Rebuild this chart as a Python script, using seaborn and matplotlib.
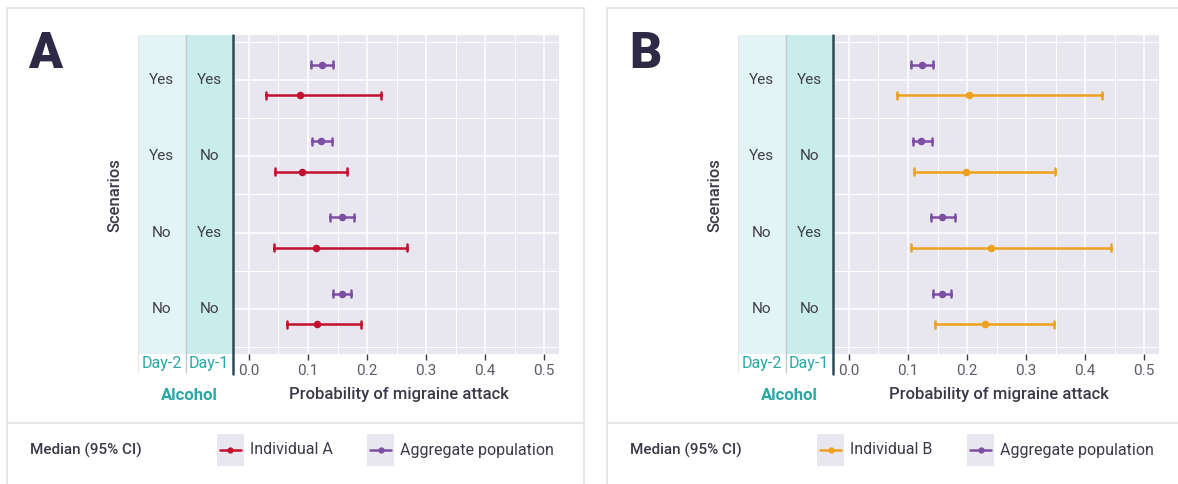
import pandas as pd
import seaborn as sns
import matplotlib.pyplot as plt
from matplotlib.patches import Rectangle
from matplotlib.lines import Line2D
from matplotlib.ticker import MultipleLocator

# scenarios (alcohol on day-2 / day-1)
day2 = ["Yes", "Yes", "No", "No"]
day1 = ["Yes", "No", "Yes", "No"]
scenarios = [a + "/" + b for a, b in zip(day2, day1)]

# panel A: median and 95% CI
pop_a_lo = [0.105, 0.107, 0.138, 0.143]
pop_a_med = [0.123, 0.122, 0.157, 0.157]
pop_a_hi = [0.143, 0.140, 0.178, 0.173]
ind_a_lo = [0.029, 0.044, 0.042, 0.065]
ind_a_med = [0.087, 0.089, 0.113, 0.116]
ind_a_hi = [0.224, 0.166, 0.267, 0.190]

# panel B
pop_b_lo = [0.105, 0.108, 0.139, 0.143]
pop_b_med = [0.123, 0.122, 0.158, 0.157]
pop_b_hi = [0.143, 0.140, 0.179, 0.173]
ind_b_lo = [0.082, 0.110, 0.105, 0.145]
ind_b_med = [0.204, 0.199, 0.240, 0.231]
ind_b_hi = [0.429, 0.349, 0.444, 0.347]

x_ticks = [0.0, 0.1, 0.2, 0.3, 0.4, 0.5]

POP_COL = "#7d4fa3"
RED = "#c3102f"
ORANGE = "#eea11d"
TEAL = "#2aa6a4"
DARK = "#3b3947"
BG = "#e8e6ee"

sns.set_theme(style="darkgrid", rc={"axes.facecolor": BG, "grid.color": "white"})
plt.rcParams['font.family'] = ['Roboto', 'DejaVu Sans']

W, H = 1178, 484
fig = plt.figure(figsize=(W / 100, H / 100), dpi=100)
fig.patch.set_facecolor("white")


def fx(px):
    return px / W


def fy(py):
    return 1 - py / H


def long_df(ind_name, ind_lo, ind_med, ind_hi, pop_lo, pop_med, pop_hi):
    rows = []
    for i, s in enumerate(scenarios):
        for name, lo, med, hi in [("Aggregate population", pop_lo, pop_med, pop_hi),
                                  (ind_name, ind_lo, ind_med, ind_hi)]:
            for v in (lo[i], med[i], hi[i]):
                rows.append({"scenario": s, "series": name, "p": v})
    return pd.DataFrame(rows)


def panel(off, letter, ind_name, ind_col, ind_lo, ind_med, ind_hi, pop_lo, pop_med, pop_hi, card_right):
    # card border
    fig.patches.append(Rectangle((fx(off + 7), fy(490)), fx(card_right - off - 7), fy(8) - fy(490),
                                 transform=fig.transFigure, facecolor="none", edgecolor="#e2e2e2", lw=1.2))
    fig.lines.append(Line2D([fx(off + 7), fx(card_right)], [fy(423), fy(423)],
                            transform=fig.transFigure, color="#e2e2e2", lw=1.2))

    ax = fig.add_axes([fx(off + 233), fy(354), fx(326), fy(35) - fy(354)])
    df = long_df(ind_name, ind_lo, ind_med, ind_hi, pop_lo, pop_med, pop_hi)
    sns.pointplot(data=df, x="p", y="scenario", hue="series", order=scenarios,
                  hue_order=["Aggregate population", ind_name],
                  palette={"Aggregate population": POP_COL, ind_name: ind_col},
                  estimator="median", errorbar=lambda v: (v.min(), v.max()),
                  dodge=0.4, linestyle="none", markers="o", markersize=3.4,
                  capsize=0.09, err_kws={"linewidth": 1.8}, orient="h",
                  legend=False, ax=ax)
    ax.set_xlim(-0.027, 0.525)
    ax.set_ylim(3.59, -0.59)
    ax.set_xticks(x_ticks)
    ax.set_xticklabels([f"{t:.1f}" for t in x_ticks])
    ax.xaxis.set_minor_locator(MultipleLocator(0.05))
    ax.set_yticks(range(4))
    ax.set_yticklabels([])
    ax.set_yticks([-0.5, 0.5, 1.5, 2.5, 3.5], minor=True)
    ax.grid(which="major", color="white", lw=1.1)
    ax.grid(which="minor", color="white", lw=0.7)
    ax.tick_params(axis="x", which="major", bottom=True, length=4, color=DARK, width=1,
                   labelsize=11, labelcolor="#5c5c66", pad=3)
    ax.tick_params(axis="y", which="major", left=True, length=5, color=DARK, width=1.5)
    ax.tick_params(which="minor", length=0)
    ax.set_xlabel("")
    ax.set_ylabel("")
    for sp in ax.spines.values():
        sp.set_visible(False)

    # alcohol band columns
    bx = fig.add_axes([fx(off + 138), fy(373), fx(95), fy(35) - fy(373)])
    bx.set_facecolor("white")
    bx.set_xlim(0, 2)
    bx.set_ylim(3.84, -0.59)
    bx.axvspan(0, 1, ymin=(3.84 - 3.59) / 4.43, ymax=1, color="#e3f4f4", lw=0)
    bx.axvspan(1, 2, ymin=(3.84 - 3.59) / 4.43, ymax=1, color="#c9ecec", lw=0)
    bx.axvline(1, color="#c4c8cc", lw=1)
    bx.axvline(0, color="#e4e7ea", lw=1)
    bx.grid(False)
    bx.set_xticks([])
    bx.set_yticks([])
    for sp in bx.spines.values():
        sp.set_visible(False)
    for i in range(4):
        bx.text(0.5, i, day2[i], ha="center", va="center", fontsize=11, color="#3f3f48")
        bx.text(1.5, i, day1[i], ha="center", va="center", fontsize=11, color="#3f3f48")
    bx.text(0.5, 3.72, "Day-2", ha="center", va="center", fontsize=11.5, color=TEAL)
    bx.text(1.5, 3.72, "Day-1", ha="center", va="center", fontsize=11.5, color=TEAL)

    # dark axis line on the left of the plot
    fig.lines.append(Line2D([fx(off + 233), fx(off + 233)], [fy(35), fy(374)],
                            transform=fig.transFigure, color="#2e4a53", lw=1.8))

    fig.text(fx(off + 189), fy(395), "Alcohol", ha="center", va="center",
             fontsize=12, fontweight="bold", color=TEAL)
    fig.text(fx(off + 399), fy(395), "Probability of migraine attack", ha="center", va="center",
             fontsize=12, fontweight="medium", color=DARK)
    fig.text(fx(off + 115), fy(195), "Scenarios", ha="center", va="center", rotation=90,
             fontsize=12, fontweight="medium", color=DARK)
    fig.text(fx(off + 45), fy(55), letter, ha="center", va="center",
             fontsize=36, fontweight="heavy", color="#2e2a45")

    # legend row
    fig.text(fx(off + 30), fy(450), "Median (95% CI)", ha="left", va="center",
             fontsize=11, fontweight="medium", color=DARK)
    for hx, name, col in [(off + 217, ind_name, ind_col), (off + 367, "Aggregate population", POP_COL)]:
        fig.patches.append(Rectangle((fx(hx), fy(466)), fx(27), fy(434) - fy(466),
                                     transform=fig.transFigure, facecolor=BG, edgecolor="none"))
        fig.lines.append(Line2D([fx(hx + 3), fx(hx + 24)], [fy(450), fy(450)], transform=fig.transFigure,
                                color=col, lw=1.8))
        fig.lines.append(Line2D([fx(hx + 13.5)], [fy(450)], transform=fig.transFigure,
                                color=col, marker="o", markersize=3.5))
        fig.text(fx(hx + 33), fy(450), name, ha="left", va="center", fontsize=11.5, color=DARK)


panel(0, "A", "Individual A", RED, ind_a_lo, ind_a_med, ind_a_hi,
      pop_a_lo, pop_a_med, pop_a_hi, 584)
panel(600, "B", "Individual B", ORANGE, ind_b_lo, ind_b_med, ind_b_hi,
      pop_b_lo, pop_b_med, pop_b_hi, 1200)

fig.savefig("out.png", dpi=100)
